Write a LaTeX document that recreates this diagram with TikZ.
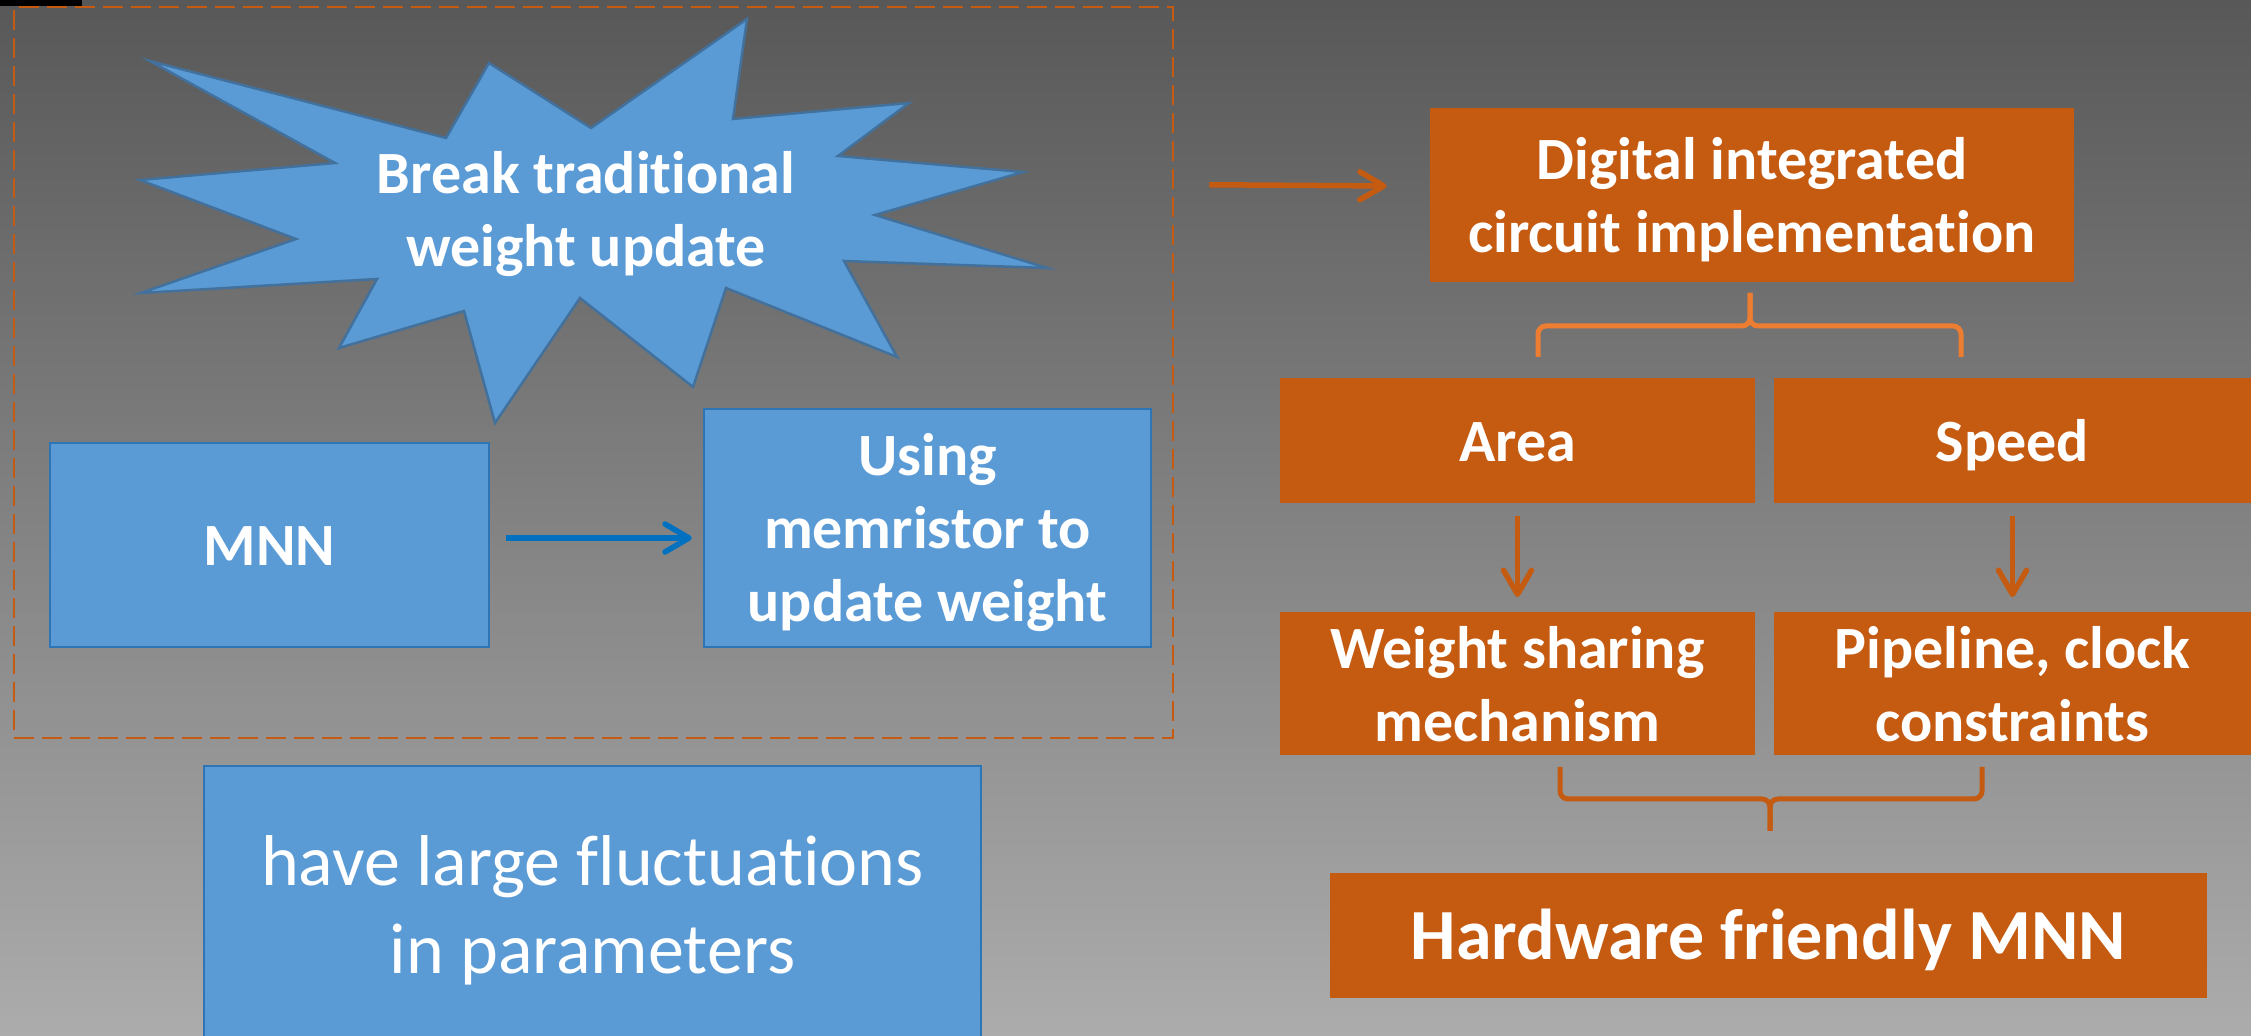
\documentclass[tikz,border=0pt]{standalone}
\usepackage{fontspec}
\setmainfont{Carlito}[Ligatures=NoCommon]
\usetikzlibrary{arrows.meta,calc}

\definecolor{bgtop}{RGB}{88,88,88}
\definecolor{bgbot}{RGB}{172,172,172}
\definecolor{rust}{RGB}{197,90,17}
\definecolor{amber}{RGB}{237,125,49}
\definecolor{sky}{RGB}{91,155,213}
\definecolor{skyline}{RGB}{46,117,182}
\definecolor{starline}{RGB}{65,113,156}
\definecolor{arrowblue}{RGB}{0,112,192}

\begin{document}
\begin{tikzpicture}[x=0.5pt,y=-0.5pt,
  boldtext/.style={text=white, align=center, font=\bfseries\fontsize{30}{36.5}\selectfont},
  oneline/.style={text height=28pt, text depth=7pt},
  twolines/.style={text height=64.5pt, text depth=7pt},
  threelines/.style={text height=101pt, text depth=7pt},
  orbox/.style={fill=rust, inner sep=0pt, boldtext},
  blbox/.style={fill=sky, draw=skyline, line width=1.25pt, inner sep=0pt, boldtext},
  flow/.style={line width=2.75pt, -{Straight Barb[length=12pt,width=14pt,round]}},
  curly/.style={line width=2.5pt, rounded corners=4pt},
  groupbox/.style={draw=rust, line width=1.25pt, dash pattern=on 10pt off 4pt, inner sep=0pt}
]
\useasboundingbox (0,0) rectangle (2251,1036);
\clip (0,0) rectangle (2251,1036);

% backdrop
\shade[top color=bgtop, bottom color=bgbot] (0,0) rectangle (2251,1036);
\fill[black] (0,0) rectangle (82,6);

% dashed group around the memristor part
\node[groupbox, minimum width=579.5pt, minimum height=365.5pt] (grp) at (593.5,372.5) {};

% burst shape
\filldraw[fill=sky, draw=starline, line width=1.25pt, line join=miter]
  (150,61) -- (446,138) -- (489,63) -- (591,128) -- (747,19) -- (733,119)
  -- (909,103) -- (838,156) -- (1023,172) -- (875,215) -- (1047,268)
  -- (844,261) -- (897,357) -- (726,288) -- (693,387) -- (580,298)
  -- (495,423) -- (464,311) -- (339,348) -- (377,279) -- (141,293)
  -- (296,239) -- (140,180) -- (335,163) -- cycle;
\node[boldtext, twolines] (burst) at (586,209.5) {Break traditional\\weight update};

% left blue boxes
\node[blbox, oneline, minimum width=219.5pt, minimum height=102pt] (mnn) at (269.5,545) {MNN};
\node[blbox, threelines, minimum width=223.5pt, minimum height=119pt] (using) at (927.5,528)
  {Using\\memristor to\\update weight};
\node[blbox, minimum width=388.5pt, minimum height=144pt, text height=74pt, text depth=10pt,
  font=\fontsize{36}{44}\selectfont] (fluct) at (592.5,910)
  {have large fluctuations\\in parameters};

\draw[flow, arrowblue] ([xshift=8pt,yshift=3.5pt]mnn.east) -- ([xshift=-5.5pt,yshift=-5pt]using.west);

% right orange boxes
\node[orbox, twolines, minimum width=322pt, minimum height=87pt] (digital) at (1752,195)
  {Digital integrated\\circuit implementation};
\node[orbox, oneline, minimum width=237.5pt, minimum height=62.5pt] (area) at (1517.5,440.5) {Area};
\node[orbox, oneline, minimum width=238.5pt, minimum height=62.5pt] (speed) at (2012.5,440.5) {Speed};
\node[orbox, twolines, minimum width=237.5pt, minimum height=69pt] (weight) at (1517.5,684)
  {Weight sharing\\mechanism};
\node[orbox, twolines, minimum width=238.5pt, minimum height=69pt] (pipe) at (2012.5,684)
  {Pipeline, clock\\constraints};
\node[orbox, minimum width=438.5pt, minimum height=62.5pt, text height=30pt, text depth=5.5pt,
  font=\bfseries\fontsize{36}{44}\selectfont] (hw) at (1768.5,935.5) {Hardware friendly MNN};

% connectors
\draw[flow, rust] ($(grp.north east)+(35,179)$) -- ($(digital.west)+(-43,-9)$);
\draw[flow, rust] ([yshift=-6.5pt]area.south) -- ([yshift=7.5pt]weight.north);
\draw[flow, rust] ([yshift=-6.5pt]speed.south) -- ([yshift=7.5pt]pipe.north);

% braces
\draw[curly, amber] (1538,357) -- (1538,326) -- (1750,326) -- (1750,293);
\draw[curly, amber] (1961,357) -- (1961,326) -- (1750,326) -- (1750,293);
\draw[curly, rust] (1560,767) -- (1560,799) -- (1770,799) -- (1770,831);
\draw[curly, rust] (1982,767) -- (1982,799) -- (1770,799) -- (1770,831);
\end{tikzpicture}
\end{document}
